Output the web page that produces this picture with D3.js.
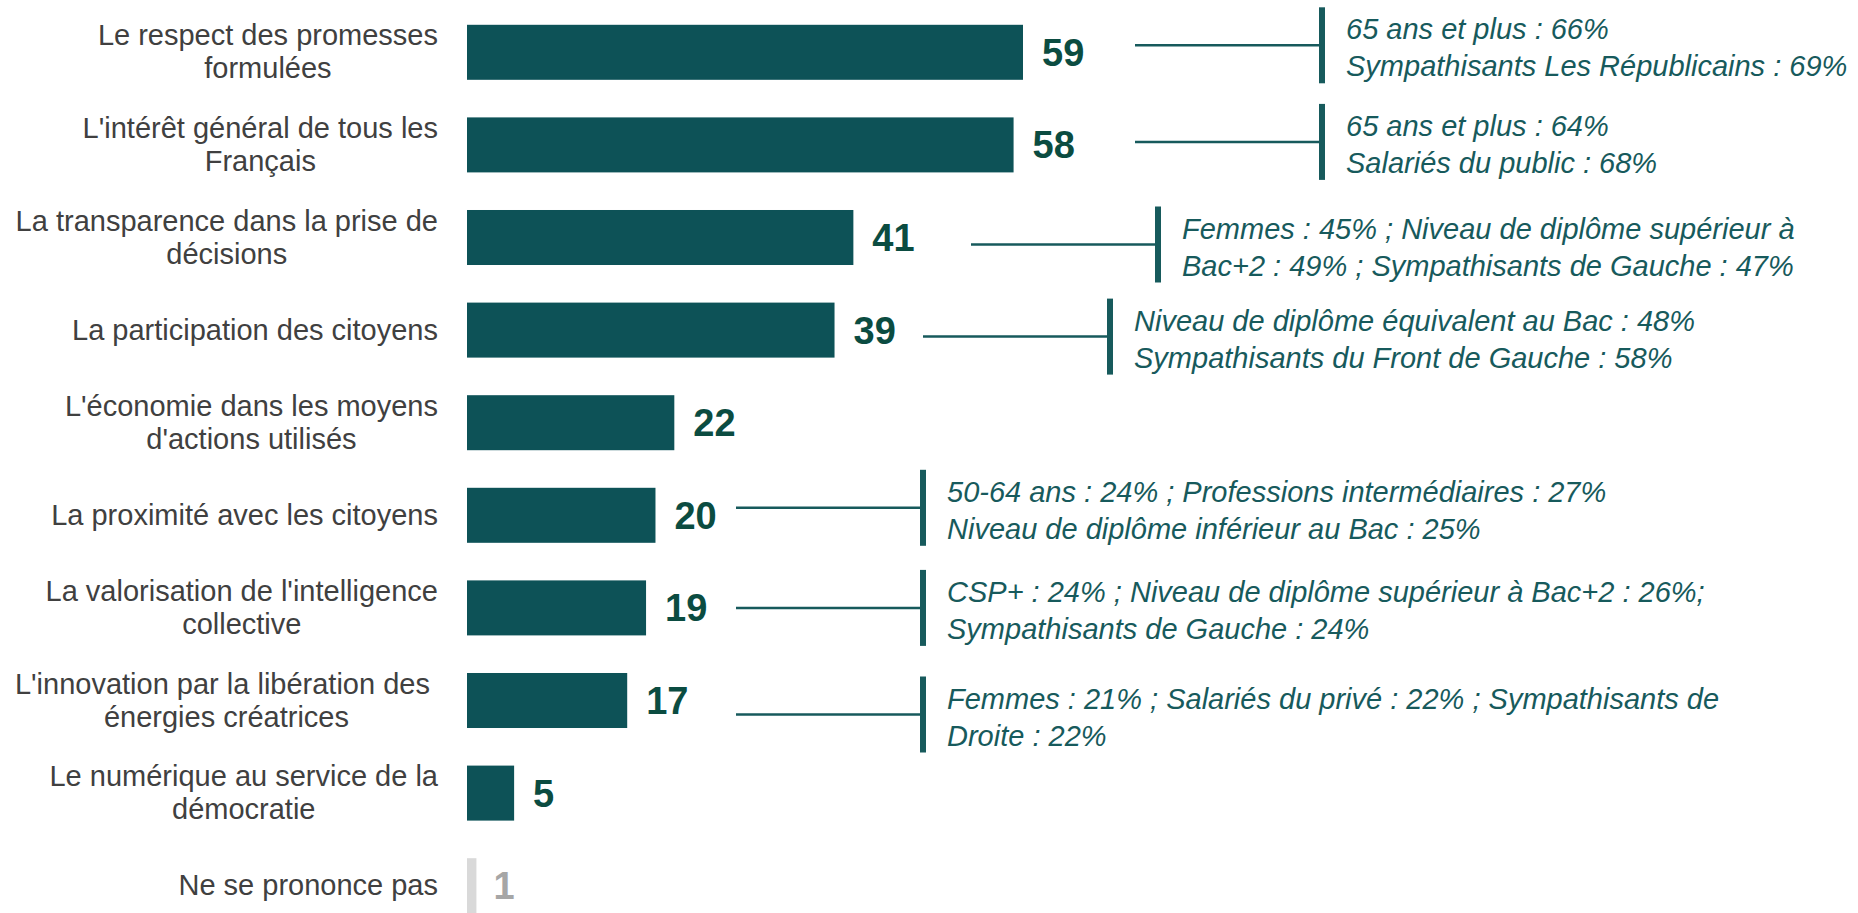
<!DOCTYPE html>
<html lang="fr">
<head>
<meta charset="utf-8">
<script src="https://cdn.jsdelivr.net/npm/d3@7"></script>
<style>
  html, body { margin: 0; padding: 0; background: #fff; }
  svg { display: block; font-family: "Liberation Sans", Arial, sans-serif; }
  .cat-label { fill: #404040; font-size: 29px; white-space: pre; }
  .val-label { font-size: 38px; font-weight: bold; }
  .callout-text { fill: #175a5c; font-size: 29px; font-style: italic; }
</style>
</head>
<body>
<div id="chart"></div>
<script>
// Horizontal bars + segment callouts. "|" marks a line break in a label.

const categories = [
  "Le respect des promesses|formulées",
  "L'intérêt général de tous les|Français",
  "La transparence dans la prise de|décisions",
  "La participation des citoyens",
  "L'économie dans les moyens|d'actions utilisés",
  "La proximité avec les citoyens",
  "La valorisation de l'intelligence|collective",
  "L'innovation par la libération des |énergies créatrices",
  "Le numérique au service de la|démocratie",
  "Ne se prononce pas",
];

const values = [59, 58, 41, 39, 22, 20, 19, 17, 5, 1];

// last row is the "no answer" row, drawn in grey
const isNoAnswer = [false, false, false, false, false, false, false, false, false, true];

const callouts = [
  ["65 ans et plus : 66%", "Sympathisants Les Républicains : 69%"],
  ["65 ans et plus : 64%", "Salariés du public : 68%"],
  ["Femmes : 45% ; Niveau de diplôme supérieur à", "Bac+2 : 49% ; Sympathisants de Gauche : 47%"],
  ["Niveau de diplôme équivalent au Bac : 48%", "Sympathisants du Front de Gauche : 58%"],
  null,
  ["50-64 ans : 24% ; Professions intermédiaires : 27%", "Niveau de diplôme inférieur au Bac : 25%"],
  ["CSP+ : 24% ; Niveau de diplôme supérieur à Bac+2 : 26%;", "Sympathisants de Gauche : 24%"],
  ["Femmes : 21% ; Salariés du privé : 22% ; Sympathisants de", "Droite : 22%"],
  null,
  null,
];

// hand placement of the callout brackets (x of bracket, vertical nudge)
const CALLOUT_POS = [
  { bx: 1322, dy: -7 },
  { bx: 1322, dy: -3 },
  { bx: 1158, dy: 7 },
  { bx: 1110, dy: 6.5 },
  null,
  { bx: 923, dy: -7.5 },
  { bx: 923, dy: 0 },
  { bx: 923, dy: 14 },
  null,
  null,
];

const W = 1858, H = 913;
const LABEL_RIGHT = 438;
const BAR_COLOR = "#0d5257";
const VAL_COLOR = "#0b4c41";
const LINE_COLOR = "#175a5c";

const rows = categories.map((c, i) => ({
  cat: c, lines: c.split("|"), value: values[i], na: isNoAnswer[i],
  callout: callouts[i], pos: CALLOUT_POS[i],
}));

const svg = d3.select("#chart").append("svg")
  .attr("width", W).attr("height", H)
  .attr("viewBox", `0 0 ${W} ${H}`);

const x = d3.scaleLinear().domain([0, 59]).range([467, 1023]);
const y = d3.scaleBand().domain(categories).range([6, 932])
  .paddingInner(0.406).paddingOuter(0.203);
const cy = (d) => y(d.cat) + y.bandwidth() / 2;

// bars
svg.append("g").selectAll("rect").data(rows).join("rect")
  .attr("x", x(0))
  .attr("y", (d) => y(d.cat))
  .attr("width", (d) => x(d.value) - x(0))
  .attr("height", y.bandwidth())
  .attr("fill", (d) => d.na ? "#d9d9d9" : BAR_COLOR);

// value labels
svg.append("g").selectAll("text").data(rows).join("text")
  .attr("class", "val-label")
  .attr("x", (d) => x(d.value) + (d.na ? 17 : 19))
  .attr("y", (d) => cy(d) + 13.5)
  .attr("fill", (d) => d.na ? "#a6a6a6" : VAL_COLOR)
  .text((d) => d.value);

// category labels, lines centred on each other, block right-aligned
const LINE_H = 33;
const cats = svg.append("g").selectAll("text").data(rows).join("text")
  .attr("class", "cat-label")
  .attr("text-anchor", "middle");

cats.each(function (d) {
  const t = d3.select(this);
  const n = d.lines.length;
  const spans = d.lines.map((ln, i) => t.append("tspan")
    .attr("y", cy(d) + (i - (n - 1) / 2) * LINE_H + 9.5)
    .text(ln));
  const w = d3.max(spans, (s) => s.node().getComputedTextLength());
  spans.forEach((s) => s.attr("x", LABEL_RIGHT - w / 2));
});

// callouts: connector, bracket, two italic lines
const co = svg.append("g").selectAll("g").data(rows.filter((d) => d.callout)).join("g");

co.append("line")
  .attr("x1", (d) => d.pos.bx - 187).attr("x2", (d) => d.pos.bx)
  .attr("y1", (d) => cy(d) + d.pos.dy).attr("y2", (d) => cy(d) + d.pos.dy)
  .attr("stroke", LINE_COLOR).attr("stroke-width", 2.5);

co.append("line")
  .attr("x1", (d) => d.pos.bx).attr("x2", (d) => d.pos.bx)
  .attr("y1", (d) => cy(d) + d.pos.dy - 38).attr("y2", (d) => cy(d) + d.pos.dy + 38)
  .attr("stroke", LINE_COLOR).attr("stroke-width", 6);

co.each(function (d) {
  const mid = cy(d) + d.pos.dy;
  d3.select(this).selectAll("text.callout-text").data(d.callout).join("text")
    .attr("class", "callout-text")
    .attr("x", d.pos.bx + 24)
    .attr("y", (t, i) => mid - 6 + i * 37)
    .text((t) => t);
});
</script>
</body>
</html>
